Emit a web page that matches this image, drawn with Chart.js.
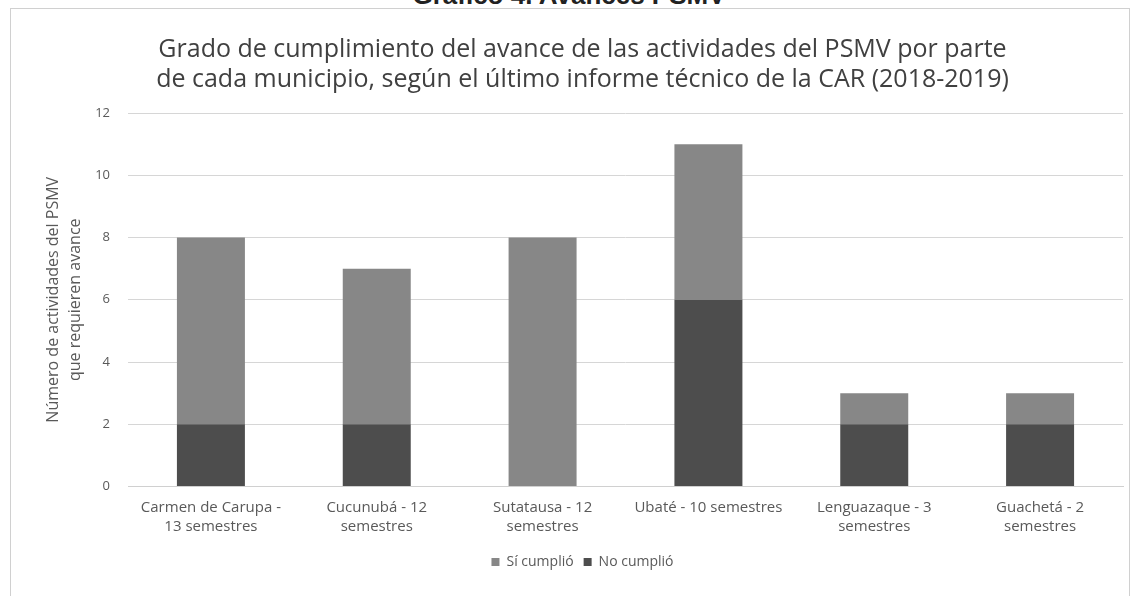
<!DOCTYPE html>
<html>
<head>
<meta charset="utf-8">
<script src="https://cdn.jsdelivr.net/npm/chart.js@4.4.1/dist/chart.umd.min.js"></script>
<style>
  html, body { margin: 0; padding: 0; background: #ffffff; }
  #wrap { position: relative; width: 1138px; height: 596px; overflow: hidden; }
  #frame { position: absolute; left: 10px; top: 8px; width: 1120px; height: 600px;
           border: 1px solid #d0d0d0; box-sizing: border-box; }
  #head { position: absolute; left: 0; width: 1138px; top: -20px; text-align: center;
          font: bold 26px 'Liberation Sans', sans-serif; color: #222; }
  #chart { position: absolute; left: 0; top: 0; }
</style>
</head>
<body>
<div id="wrap">
  <div id="head">Gráfico 4. Avances PSMV</div>
  <div id="frame"></div>
  <canvas id="chart" width="1138" height="596"></canvas>
</div>
<script>
'use strict';

// ---- data --------------------------------------------------
const municipios = [
    ['Carmen de Carupa -', '13 semestres'],
    ['Cucunubá - 12', 'semestres'],
    ['Sutatausa - 12', 'semestres'],
    'Ubaté - 10 semestres',
    ['Lenguazaque - 3', 'semestres'],
    ['Guachetá - 2', 'semestres'],
];
const noCumplio = [2, 2, 0, 6, 2, 2];
const siCumplio = [6, 5, 8, 5, 1, 1];
const yTicks = [0, 2, 4, 6, 8, 10, 12];

const FONT = "'Open Sans', sans-serif";
const TEXT = '#595959';

const ctx = document.getElementById('chart');

new Chart(ctx, {
    type: 'bar',
    data: {
        labels: municipios,
        datasets: [
            {
                label: 'No cumplió',
                data: noCumplio,
                backgroundColor: '#4d4d4d',
                borderWidth: 0,
                barPercentage: 0.41,
                categoryPercentage: 1,
            },
            {
                label: 'Sí cumplió',
                data: siCumplio,
                backgroundColor: '#878787',
                borderWidth: 0,
                barPercentage: 0.41,
                categoryPercentage: 1,
            },
        ],
    },
    options: {
        responsive: false,
        animation: false,
        layout: { padding: { left: 42, right: 15, top: 35, bottom: 17 } },
        plugins: {
            title: {
                display: true,
                text: [
                    'Grado de cumplimiento del avance de las actividades del PSMV por parte',
                    'de cada municipio, según el último informe técnico de la CAR (2018-2019)',
                ],
                font: { family: FONT, size: 25, weight: 'normal' },
                color: '#404040',
                lineHeight: 1.2,
                padding: { top: 0, bottom: 18 },
            },
            legend: {
                position: 'bottom',
                reverse: true,
                labels: {
                    font: { family: FONT, size: 14 },
                    color: TEXT,
                    boxWidth: 8,
                    boxHeight: 8,
                    padding: 10,
                },
            },
            tooltip: { enabled: false },
        },
        scales: {
            x: {
                stacked: true,
                afterFit: (scale) => { scale.height += 5; },
                grid: { display: false },
                border: { color: '#d0d0d0' },
                ticks: {
                    font: { family: FONT, size: 15, lineHeight: 1.25 },
                    color: TEXT,
                    maxRotation: 0,
                    autoSkip: false,
                    padding: 4,
                },
            },
            y: {
                stacked: true,
                min: 0,
                max: 12,
                afterBuildTicks: (scale) => { scale.ticks = yTicks.map(v => ({ value: v })); },
                afterFit: (scale) => { scale.width = 86; },
                grid: { color: '#d6d6d6', drawTicks: false },
                border: { display: false },
                ticks: {
                    font: { family: FONT, size: 13 },
                    color: TEXT,
                    padding: 18,
                },
                title: {
                    display: true,
                    text: ['Número de actividades del PSMV', 'que requieren avance'],
                    font: { family: FONT, size: 16, lineHeight: 1.4 },
                    color: TEXT,
                    padding: { top: 0, bottom: 0 },
                },
            },
        },
    },
});
</script>
</body>
</html>
